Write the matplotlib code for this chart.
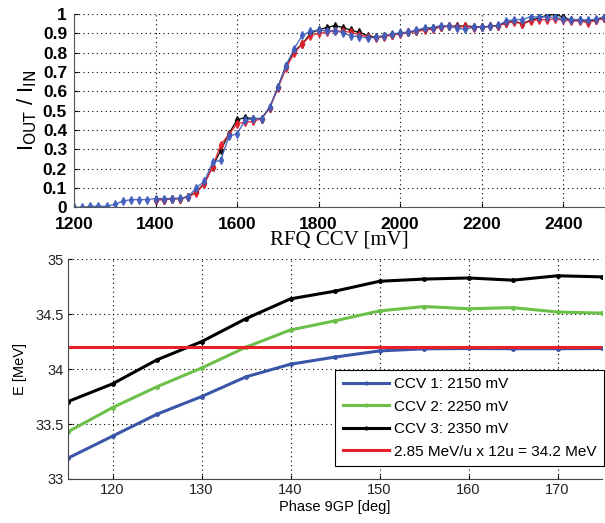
import numpy as np
import matplotlib
matplotlib.use("Agg")
import matplotlib.pyplot as plt
from matplotlib.ticker import FixedLocator

# ---- transmission vs RFQ cavity voltage ----
ccv_blue = list(range(1200, 2501, 20))
trans_blue = [0.0, 0.0, 0.005, 0.005, 0.005, 0.015, 0.032, 0.04, 0.04, 0.04,
              0.045, 0.045, 0.045, 0.047, 0.053, 0.102, 0.134, 0.234, 0.243, 0.367,
              0.381, 0.45, 0.459, 0.459, 0.517, 0.62, 0.733, 0.82, 0.89, 0.91,
              0.917, 0.914, 0.914, 0.903, 0.886, 0.883, 0.876, 0.88, 0.888, 0.897,
              0.902, 0.907, 0.917, 0.928, 0.93, 0.94, 0.936, 0.929, 0.92, 0.932,
              0.932, 0.937, 0.941, 0.964, 0.971, 0.971, 0.986, 0.984, 0.986, 0.982,
              0.973, 0.971, 0.971, 0.968, 0.973, 0.986]

ccv_rb = list(range(1400, 2501, 20))
trans_red = [0.04, 0.04, 0.045, 0.045, 0.055, 0.076, 0.122, 0.21, 0.324, 0.376,
             0.433, 0.44, 0.445, 0.459, 0.515, 0.615, 0.72, 0.797, 0.845, 0.888,
             0.9, 0.909, 0.91, 0.912, 0.905, 0.893, 0.883, 0.876, 0.883, 0.891,
             0.897, 0.905, 0.91, 0.917, 0.922, 0.933, 0.936, 0.933, 0.936, 0.93,
             0.932, 0.936, 0.939, 0.952, 0.961, 0.948, 0.964, 0.971, 0.971, 0.975,
             0.968, 0.964, 0.964, 0.955, 0.968, 0.977]
trans_black = [0.04, 0.04, 0.045, 0.045, 0.055, 0.079, 0.125, 0.21, 0.295, 0.381,
               0.453, 0.464, 0.459, 0.459, 0.515, 0.62, 0.733, 0.807, 0.845, 0.9,
               0.919, 0.93, 0.94, 0.93, 0.915, 0.905, 0.888, 0.88, 0.885, 0.893,
               0.9, 0.905, 0.912, 0.92, 0.926, 0.935, 0.937, 0.937, 0.938, 0.935,
               0.932, 0.936, 0.94, 0.955, 0.962, 0.95, 0.968, 0.98, 0.993, 0.998,
               0.984, 0.968, 0.968, 0.962, 0.968, 0.98]

top_xticks = [1200, 1400, 1600, 1800, 2000, 2200, 2400]
top_yticks = [0, 0.1, 0.2, 0.3, 0.4, 0.5, 0.6, 0.7, 0.8, 0.9, 1.0]
top_ylabels = ["0", "0.1", "0.2", "0.3", "0.4", "0.5", "0.6", "0.7", "0.8", "0.9", "1"]

# ---- beam energy vs phase of 9-gap resonator ----
phase = [115, 120, 125, 130, 135, 140, 145, 150, 155, 160, 165, 170, 175]
e_ccv1 = [33.19, 33.39, 33.59, 33.75, 33.93, 34.045, 34.11, 34.166, 34.185, 34.188, 34.186, 34.186, 34.188]
e_ccv2 = [33.43, 33.65, 33.84, 34.01, 34.2, 34.357, 34.44, 34.53, 34.57, 34.55, 34.56, 34.52, 34.51]
e_ccv3 = [33.705, 33.866, 34.085, 34.25, 34.46, 34.64, 34.71, 34.8, 34.82, 34.83, 34.81, 34.85, 34.84]
e_target = 34.2
legend_labels = ["CCV 1: 2150 mV", "CCV 2: 2250 mV", "CCV 3: 2350 mV",
                 "2.85 MeV/u x 12u = 34.2 MeV"]
bot_xticks = [120, 130, 140, 150, 160, 170]
bot_yticks = [33, 33.5, 34, 34.5, 35]
bot_ylabels = ["33", "33.5", "34", "34.5", "35"]

BLUE = "#3f5fbf"
RED = "#e8202a"
GREEN = "#6cc04a"
DBLUE = "#3a56a8"

fig = plt.figure(figsize=(6.05, 5.23), dpi=100)

grid_kw = dict(color="black", linestyle=(0, (1, 3)), linewidth=0.8)

# top panel
ax1 = fig.add_axes([74 / 605, 1 - 207.3 / 523, 530 / 605, 193.3 / 523])
ax1.plot(ccv_rb, trans_black, color="black", lw=1.0, marker="d", ms=4, alpha=0.9)
ax1.plot(ccv_rb, trans_red, color=RED, lw=1.0, marker="d", ms=4, alpha=0.9)
ax1.plot(ccv_blue, trans_blue, color=BLUE, lw=1.0, marker="d", ms=4, alpha=0.9)
ax1.set_xlim(1200, 2500)
ax1.set_ylim(0, 1)
ax1.xaxis.set_major_locator(FixedLocator(top_xticks))
ax1.yaxis.set_major_locator(FixedLocator(top_yticks))
ax1.set_yticklabels(top_ylabels)
ax1.grid(True, **grid_kw)
for lab in ax1.get_xticklabels() + ax1.get_yticklabels():
    lab.set_fontweight("bold")
    lab.set_fontsize(12.5)
    lab.set_family("Liberation Sans")
ax1.tick_params(axis="y", direction="in", length=3, pad=5, colors="black")
ax1.tick_params(axis="x", direction="in", length=3, pad=7, colors="black")
ax1.set_xlabel("RFQ CCV [mV]", family="Liberation Serif", fontsize=15, labelpad=-1)
ax1.set_ylabel(r"I$_{\mathrm{OUT}}$ / I$_{\mathrm{IN}}$", family="Liberation Sans",
               fontsize=16, labelpad=3)
for s in ("top", "right"):
    ax1.spines[s].set_visible(False)
for s in ("left", "bottom"):
    ax1.spines[s].set_color("#555555")

# bottom panel
ax2 = fig.add_axes([68 / 605, 1 - 479 / 523, 534 / 605, 219.7 / 523])
h1, = ax2.plot(phase, e_ccv1, color=DBLUE, lw=2.2, marker=".", ms=5)
h2, = ax2.plot(phase, e_ccv2, color=GREEN, lw=2.2, marker=".", ms=5)
h3, = ax2.plot(phase, e_ccv3, color="black", lw=2.2, marker=".", ms=5)
h4 = ax2.axhline(e_target, color=RED, lw=2.2)
ax2.set_xlim(115, 175)
ax2.set_ylim(33, 35)
ax2.xaxis.set_major_locator(FixedLocator(bot_xticks))
ax2.yaxis.set_major_locator(FixedLocator(bot_yticks))
ax2.set_yticklabels(bot_ylabels)
ax2.grid(True, **grid_kw)
ax2.tick_params(direction="in", length=3, pad=3, labelsize=10.5)
for lab in ax2.get_xticklabels() + ax2.get_yticklabels():
    lab.set_family("Liberation Sans")
    lab.set_color("#222222")
ax2.set_xlabel("Phase 9GP [deg]", family="Liberation Sans", fontsize=10.5, labelpad=2)
ax2.set_ylabel("E [MeV]", family="Liberation Sans", fontsize=10.5, labelpad=6)
for s in ("top", "right"):
    ax2.spines[s].set_visible(False)
for s in ("left", "bottom"):
    ax2.spines[s].set_color("#444444")

leg = ax2.legend([h1, h2, h3, h4], legend_labels, loc="lower right",
                 bbox_to_anchor=(1.004, 0.058), borderaxespad=0, fancybox=False,
                 framealpha=1, edgecolor="black", handlelength=3.0,
                 prop={"family": "Liberation Sans", "size": 11},
                 labelspacing=0.55, handletextpad=0.35, borderpad=0.5, markerscale=0.8)
leg.get_frame().set_linewidth(0.8)

fig.savefig("out.png", dpi=100)
